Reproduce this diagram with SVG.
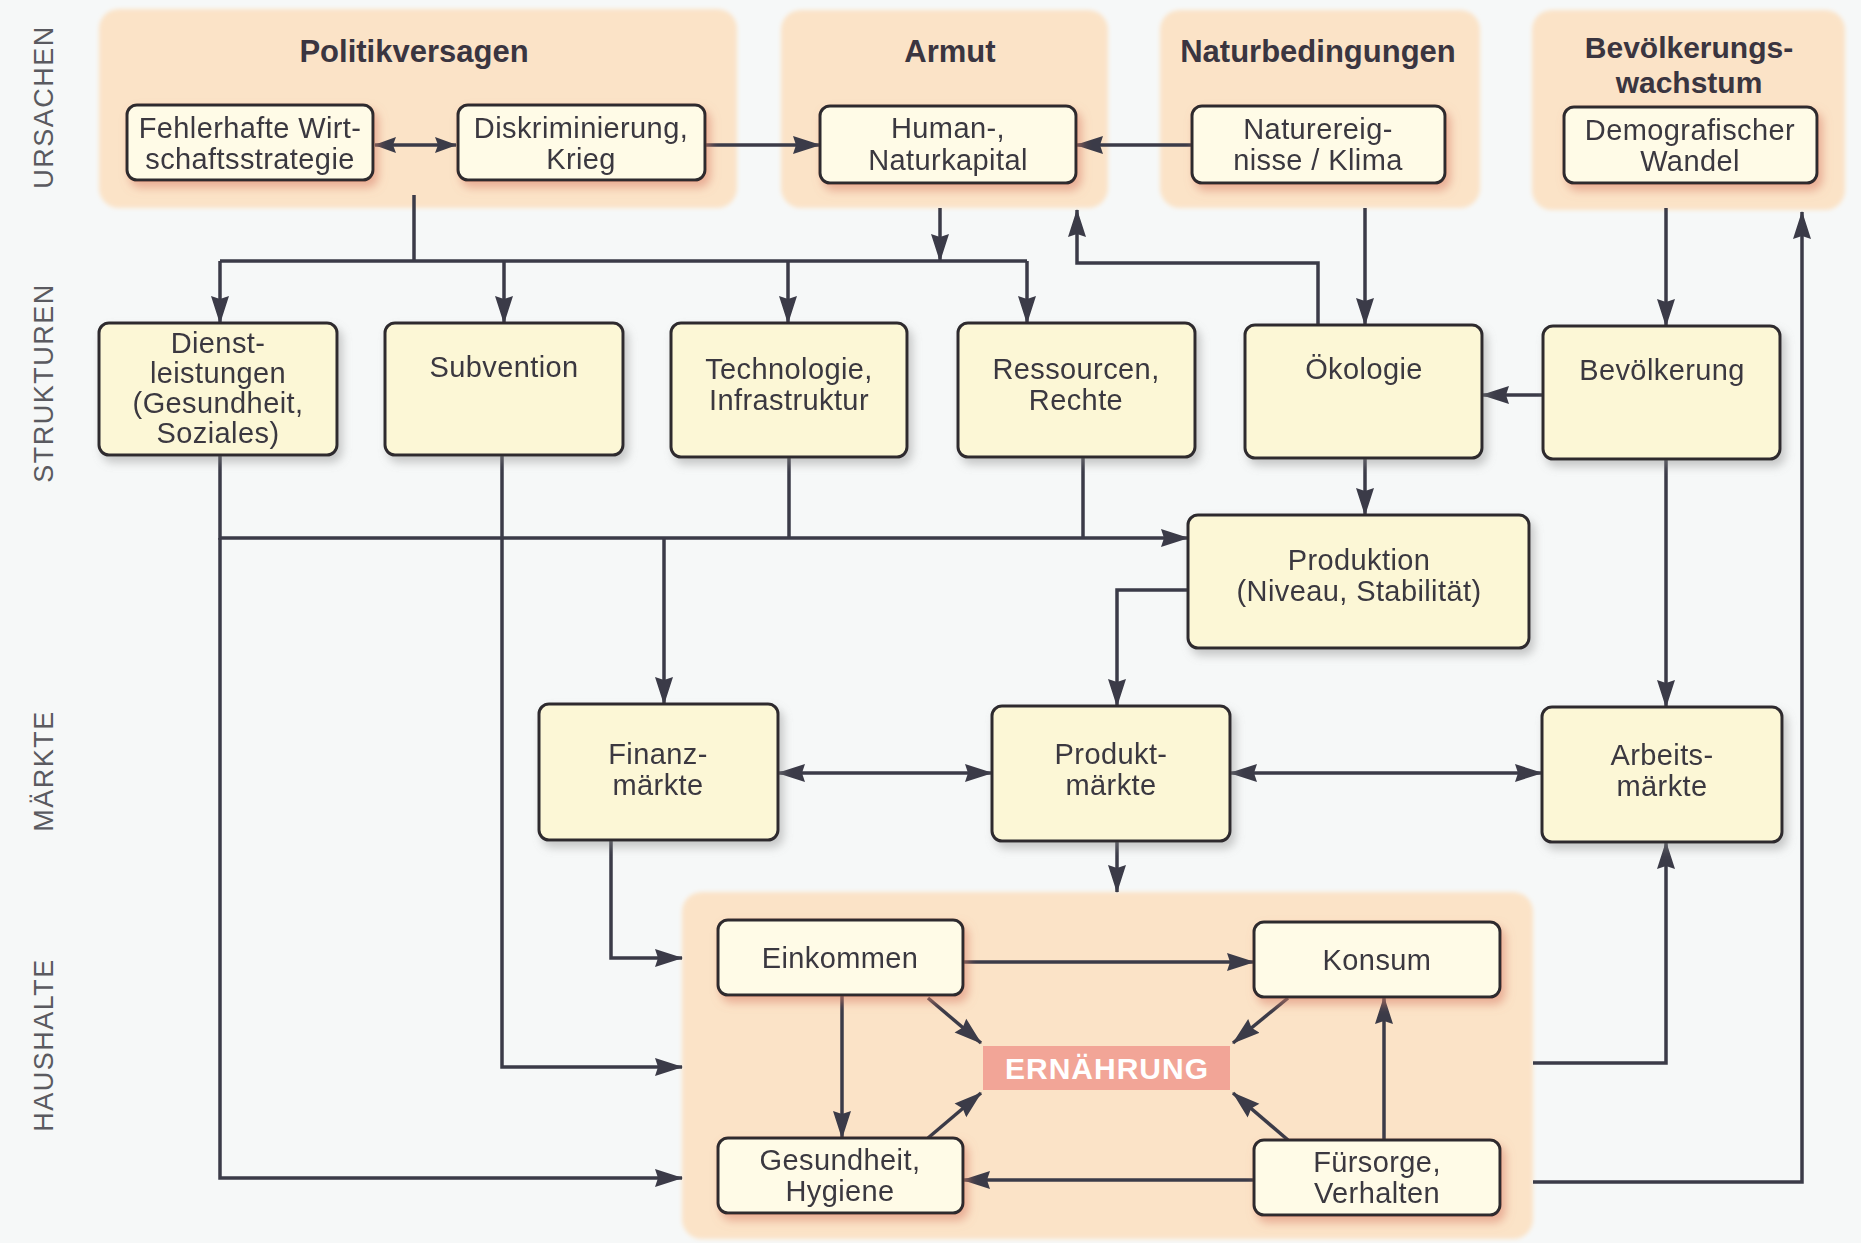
<svg xmlns="http://www.w3.org/2000/svg" width="1861" height="1243" viewBox="0 0 1861 1243">
<defs>
<style>
.bg{fill:#f6f8f8}
.panel{fill:#fbe3c7}
.node rect{fill:#fffbe7;stroke:#2d2b2e;stroke-width:3}
.node.s rect{fill:#fcf7d6}
.t{font-family:"Liberation Sans",Arial,sans-serif;font-size:29px;fill:#3a383f;text-anchor:middle;letter-spacing:0.4px}
.title{font-family:"Liberation Sans",Arial,sans-serif;font-size:31px;font-weight:bold;fill:#3a3540;text-anchor:middle}
.lane{font-family:"Liberation Sans",Arial,sans-serif;font-size:27px;letter-spacing:1.5px;fill:#5a5a60;text-anchor:middle}
.c{fill:none;stroke:#3b3b48;stroke-width:3.5}
.a{marker-end:url(#ah)}
.aa{marker-start:url(#ah);marker-end:url(#ah)}
.as{marker-start:url(#ahs);marker-end:url(#ahs)}
.ern{fill:#f2a597}
.ernt{font-family:"Liberation Sans",Arial,sans-serif;font-size:30px;font-weight:bold;fill:#ffffff;text-anchor:middle;letter-spacing:1px}
</style>
<filter id="sh" x="-10%" y="-10%" width="130%" height="140%">
<feDropShadow dx="4" dy="6" stdDeviation="5" flood-color="#8a8a8a" flood-opacity="0.45"/>
</filter>
<filter id="shp" x="-10%" y="-10%" width="130%" height="150%">
<feDropShadow dx="4" dy="6" stdDeviation="5" flood-color="#d9806a" flood-opacity="0.55"/>
</filter>
<filter id="soft" x="-5%" y="-5%" width="110%" height="110%">
<feGaussianBlur stdDeviation="2"/>
</filter>
<marker id="ah" viewBox="0 0 28 20" refX="27" refY="10" markerWidth="28" markerHeight="20" markerUnits="userSpaceOnUse" orient="auto-start-reverse">
<path d="M0,1 L28,10 L0,19 L3,10 Z" fill="#3b3b48"/>
</marker>
<marker id="ahs" viewBox="0 0 22 18" refX="21" refY="9" markerWidth="22" markerHeight="18" markerUnits="userSpaceOnUse" orient="auto-start-reverse">
<path d="M0,1 L22,9 L0,17 L3,9 Z" fill="#3b3b48"/>
</marker>
</defs>

<rect class="bg" x="0" y="0" width="1861" height="1243"/>

<g id="lane-labels">
<text class="lane" transform="translate(53,107) rotate(-90)">URSACHEN</text>
<text class="lane" transform="translate(53,383) rotate(-90)">STRUKTUREN</text>
<text class="lane" transform="translate(53,771) rotate(-90)">MÄRKTE</text>
<text class="lane" transform="translate(53,1045) rotate(-90)">HAUSHALTE</text>
</g>

<g id="panels">
<g id="panel-politikversagen">
<rect class="panel" filter="url(#soft)" x="99" y="9" width="638" height="199" rx="20"/>
<text class="title" x="414" y="62">Politikversagen</text>
</g>
<g id="panel-armut">
<rect class="panel" filter="url(#soft)" x="781" y="10" width="327" height="198" rx="20"/>
<text class="title" x="950" y="62">Armut</text>
</g>
<g id="panel-naturbedingungen">
<rect class="panel" filter="url(#soft)" x="1160" y="10" width="320" height="198" rx="20"/>
<text class="title" x="1318" y="62">Naturbedingungen</text>
</g>
<g id="panel-bevoelkerungswachstum">
<rect class="panel" filter="url(#soft)" x="1532" y="10" width="313" height="200" rx="20"/>
<text class="title" x="1689" y="58" style="font-size:30px">Bevölkerungs-</text>
<text class="title" x="1689" y="93" style="font-size:30px">wachstum</text>
</g>
<g id="panel-haushalte">
<rect class="panel" filter="url(#soft)" x="682" y="892" width="851" height="347" rx="20"/>
</g>
</g>

<g id="connectors">
<path class="c as" d="M375,145 H456"/>
<path class="c a" d="M705,145 H820"/>
<path class="c a" d="M1192,145 H1076"/>
<path class="c" d="M414,195 V261 M220,261 H1027"/>
<path class="c a" d="M220,261 V323"/>
<path class="c a" d="M504,261 V323"/>
<path class="c a" d="M788,261 V323"/>
<path class="c a" d="M1027,261 V323"/>
<path class="c a" d="M940,208 V261"/>
<path class="c a" d="M1318,325 V263 H1077 V210"/>
<path class="c a" d="M1365,208 V325"/>
<path class="c a" d="M1666,208 V326"/>
<path class="c a" d="M1543,395 H1482"/>
<path class="c a" d="M1365,458 V515"/>
<path class="c a" d="M220,455 V538 H1188"/>
<path class="c" d="M789,457 V538 M1083,457 V538"/>
<path class="c a" d="M220,538 V1178 H682"/>
<path class="c a" d="M502,455 V1067 H682"/>
<path class="c a" d="M664,538 V704"/>
<path class="c a" d="M1188,590 H1117 V706"/>
<path class="c aa" d="M778,773 H992"/>
<path class="c aa" d="M1230,773 H1542"/>
<path class="c a" d="M1666,459 V707"/>
<path class="c a" d="M1117,841 V892"/>
<path class="c a" d="M611,840 V958 H682"/>
<path class="c a" d="M963,962 H1254"/>
<path class="c a" d="M842,995 V1138"/>
<path class="c a" d="M1384,1140 V997"/>
<path class="c a" d="M1254,1180 H963"/>
<path class="c a" d="M928,998 L981,1043"/>
<path class="c a" d="M1288,998 L1233,1043"/>
<path class="c a" d="M928,1138 L981,1093"/>
<path class="c a" d="M1288,1140 L1233,1093"/>
<path class="c a" d="M1533,1063 H1666 V842"/>
<path class="c a" d="M1533,1182 H1802 V212"/>
</g>

<g id="nodes">
<g id="n-fehlerhafte" class="node" filter="url(#shp)">
<rect x="127" y="105" width="246" height="75" rx="10"/>
<text class="t" x="250" y="138">Fehlerhafte Wirt-</text>
<text class="t" x="250" y="169">schaftsstrategie</text>
</g>
<g id="n-diskriminierung" class="node" filter="url(#shp)">
<rect x="458" y="105" width="247" height="75" rx="10"/>
<text class="t" x="581" y="138">Diskriminierung,</text>
<text class="t" x="581" y="169">Krieg</text>
</g>
<g id="n-human" class="node" filter="url(#shp)">
<rect x="820" y="106" width="256" height="77" rx="10"/>
<text class="t" x="948" y="138">Human-,</text>
<text class="t" x="948" y="170">Naturkapital</text>
</g>
<g id="n-naturereignisse" class="node" filter="url(#shp)">
<rect x="1192" y="106" width="253" height="77" rx="10"/>
<text class="t" x="1318" y="139">Naturereig-</text>
<text class="t" x="1318" y="170">nisse / Klima</text>
</g>
<g id="n-demografie" class="node" filter="url(#shp)">
<rect x="1564" y="107" width="253" height="76" rx="10"/>
<text class="t" x="1690" y="140">Demografischer</text>
<text class="t" x="1690" y="171">Wandel</text>
</g>

<g id="n-dienstleistungen" class="node s" filter="url(#sh)">
<rect x="99" y="323" width="238" height="132" rx="10"/>
<text class="t" x="218" y="353">Dienst-</text>
<text class="t" x="218" y="383">leistungen</text>
<text class="t" x="218" y="413">(Gesundheit,</text>
<text class="t" x="218" y="443">Soziales)</text>
</g>
<g id="n-subvention" class="node s" filter="url(#sh)">
<rect x="385" y="323" width="238" height="132" rx="10"/>
<text class="t" x="504" y="377">Subvention</text>
</g>
<g id="n-technologie" class="node s" filter="url(#sh)">
<rect x="671" y="323" width="236" height="134" rx="10"/>
<text class="t" x="789" y="379">Technologie,</text>
<text class="t" x="789" y="410">Infrastruktur</text>
</g>
<g id="n-ressourcen" class="node s" filter="url(#sh)">
<rect x="958" y="323" width="237" height="134" rx="10"/>
<text class="t" x="1076" y="379">Ressourcen,</text>
<text class="t" x="1076" y="410">Rechte</text>
</g>
<g id="n-oekologie" class="node s" filter="url(#sh)">
<rect x="1245" y="325" width="237" height="133" rx="10"/>
<text class="t" x="1364" y="379">Ökologie</text>
</g>
<g id="n-bevoelkerung" class="node s" filter="url(#sh)">
<rect x="1543" y="326" width="237" height="133" rx="10"/>
<text class="t" x="1662" y="380">Bevölkerung</text>
</g>
<g id="n-produktion" class="node s" filter="url(#sh)">
<rect x="1188" y="515" width="341" height="133" rx="10"/>
<text class="t" x="1359" y="570">Produktion</text>
<text class="t" x="1359" y="601">(Niveau, Stabilität)</text>
</g>
<g id="n-finanzmaerkte" class="node s" filter="url(#sh)">
<rect x="539" y="704" width="239" height="136" rx="10"/>
<text class="t" x="658" y="764">Finanz-</text>
<text class="t" x="658" y="795">märkte</text>
</g>
<g id="n-produktmaerkte" class="node s" filter="url(#sh)">
<rect x="992" y="706" width="238" height="135" rx="10"/>
<text class="t" x="1111" y="764">Produkt-</text>
<text class="t" x="1111" y="795">märkte</text>
</g>
<g id="n-arbeitsmaerkte" class="node s" filter="url(#sh)">
<rect x="1542" y="707" width="240" height="135" rx="10"/>
<text class="t" x="1662" y="765">Arbeits-</text>
<text class="t" x="1662" y="796">märkte</text>
</g>

<g id="n-einkommen" class="node" filter="url(#shp)">
<rect x="718" y="920" width="245" height="75" rx="10"/>
<text class="t" x="840" y="968">Einkommen</text>
</g>
<g id="n-konsum" class="node" filter="url(#shp)">
<rect x="1254" y="922" width="246" height="75" rx="10"/>
<text class="t" x="1377" y="970">Konsum</text>
</g>
<g id="n-gesundheit" class="node" filter="url(#shp)">
<rect x="718" y="1138" width="245" height="75" rx="10"/>
<text class="t" x="840" y="1170">Gesundheit,</text>
<text class="t" x="840" y="1201">Hygiene</text>
</g>
<g id="n-fuersorge" class="node" filter="url(#shp)">
<rect x="1254" y="1140" width="246" height="75" rx="10"/>
<text class="t" x="1377" y="1172">Fürsorge,</text>
<text class="t" x="1377" y="1203">Verhalten</text>
</g>
<g id="n-ernaehrung">
<rect class="ern" x="983" y="1046" width="247" height="44"/>
<text class="ernt" x="1107" y="1079">ERNÄHRUNG</text>
</g>
</g>
</svg>
